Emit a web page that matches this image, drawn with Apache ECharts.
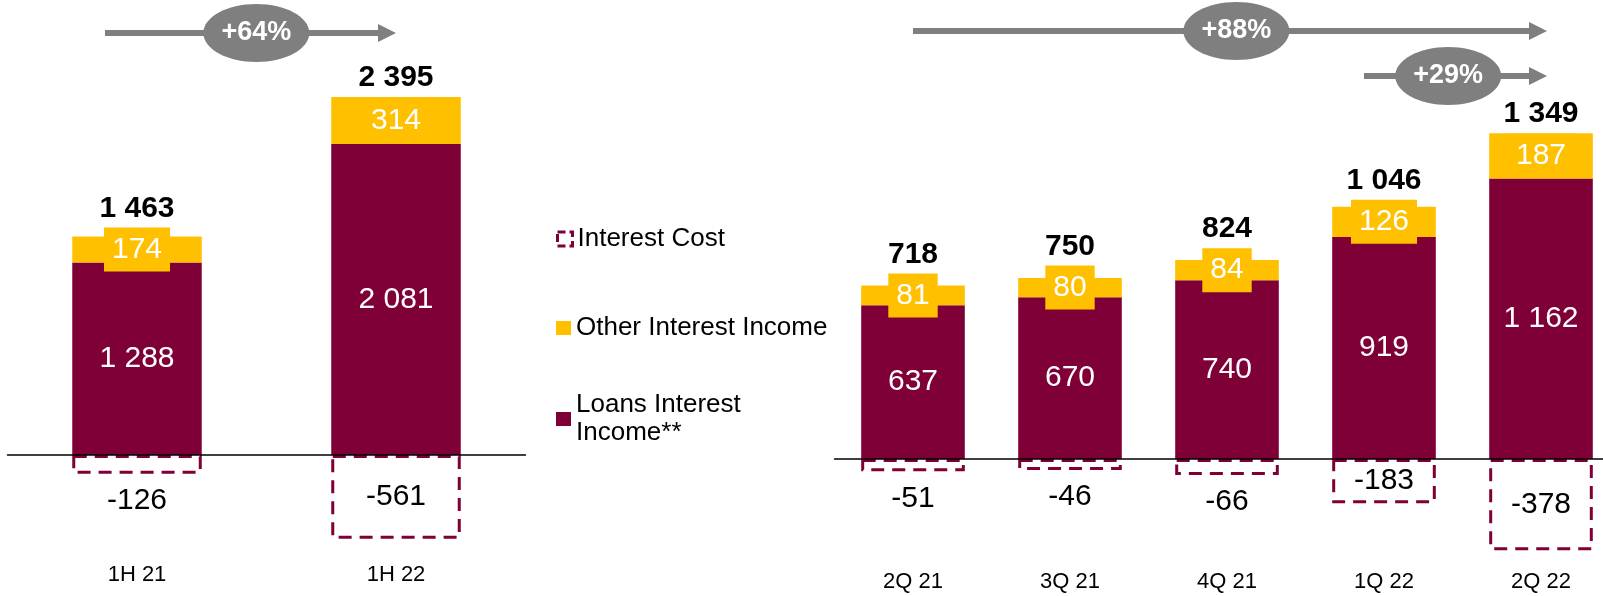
<!DOCTYPE html>
<html>
<head>
<meta charset="utf-8">
<script src="https://cdn.jsdelivr.net/npm/echarts@6/dist/echarts.min.js"></script>
<style>
  html, body { margin: 0; padding: 0; background: #fff; }
  #chart { width: 1603px; height: 596px; }
</style>
</head>
<body>
<div id="chart"></div>
<script>
// Half-year panel
const halfCategories = ['1H 21', '1H 22'];
const halfLoans = [1288, 2081];
const halfOther = [174, 314];
const halfCost = [-126, -561];
const halfTotal = [1463, 2395];

// Quarterly panel
const quarterCategories = ['2Q 21', '3Q 21', '4Q 21', '1Q 22', '2Q 22'];
const quarterLoans = [637, 670, 740, 919, 1162];
const quarterOther = [81, 80, 84, 126, 187];
const quarterCost = [-51, -46, -66, -183, -378];
const quarterTotal = [718, 750, 824, 1046, 1349];

const MAROON = '#7F0037';
const GOLD = '#FFC000';
const GREY = '#7F7F7F';
const FONT = '"Liberation Sans", Arial, sans-serif';
const BOX_H = 44; // height of the gold label plate (lineHeight + padding)

function fmt(v) {
  const s = String(Math.abs(v)).replace(/\B(?=(\d{3})+(?!\d))/g, ' ');
  return (v < 0 ? '-' : '') + s;
}
function growth(a, b) {
  return '+' + Math.round((b / a - 1) * 100) + '%';
}

// Shallow cost boxes get their value written underneath instead of inside
function costLabelLayout(p) {
  if (p.rect.height >= 35) return {};
  return {
    x: p.rect.x + p.rect.width / 2,
    y: p.rect.y + p.rect.height + 12,
    align: 'center',
    verticalAlign: 'top'
  };
}

function panelSeries(g, loans, other, cost, totals, barWidth) {
  const common = { type: 'bar', xAxisIndex: g, yAxisIndex: g, stack: 'p' + g, barWidth: barWidth, emphasis: { disabled: true } };
  return [
    Object.assign({}, common, {
      name: 'Loans Interest Income**',
      data: loans,
      itemStyle: { color: MAROON },
      label: { show: true, position: 'inside', color: '#fff', fontSize: 30, fontFamily: FONT, formatter: p => fmt(p.value) }
    }),
    Object.assign({}, common, {
      name: 'Other Interest Income',
      data: other,
      itemStyle: { color: GOLD },
      label: {
        show: true, position: 'inside', color: '#fff', fontSize: 30, fontFamily: FONT,
        backgroundColor: GOLD, padding: [5, 8], lineHeight: 34, formatter: p => fmt(p.value)
      }
    }),
    Object.assign({}, common, {
      name: 'Interest Cost',
      data: cost,
      itemStyle: { color: 'rgba(0,0,0,0)', borderColor: MAROON, borderWidth: 3, borderType: [13, 8] },
      label: { show: true, position: 'inside', color: '#000', fontSize: 30, fontFamily: FONT, formatter: p => fmt(p.value) },
      labelLayout: costLabelLayout
    }),
    {
      type: 'custom',
      xAxisIndex: g, yAxisIndex: g,
      z: 10,
      silent: true,
      data: totals.map((t, i) => [i, t, other[i]]),
      encode: { x: 0, y: 1 },
      renderItem: function (params, api) {
        const total = api.value(1);
        const p = api.coord([api.value(0), total]);
        const segH = api.size([0, api.value(2)])[1];
        const boxTop = Math.min(p[1], p[1] + segH / 2 - BOX_H / 2);
        return {
          type: 'text', x: p[0], y: boxTop - 4,
          style: { text: fmt(total), fill: '#000', font: 'bold 30px ' + FONT, align: 'center', verticalAlign: 'bottom' }
        };
      }
    }
  ];
}

const axisLabel = { color: '#000', fontSize: 22, fontFamily: FONT };
const legendText = { color: '#000', fontSize: 26, lineHeight: 28, fontFamily: FONT };

const option = {
  animation: false,
  grid: [
    { left: 7.5, width: 518, top: 66.3, height: 493.35, containLabel: false, outerBoundsMode: 'none' },
    { left: 834.5, width: 785, top: 96.75, height: 458.85, containLabel: false, outerBoundsMode: 'none' }
  ],
  xAxis: [
    {
      type: 'category', gridIndex: 0, data: halfCategories, z: 5,
      axisLine: { onZero: true, lineStyle: { color: '#000', width: 1.5 } },
      axisTick: { show: false },
      axisLabel: Object.assign({ margin: 4 }, axisLabel)
    },
    {
      type: 'category', gridIndex: 1, data: quarterCategories, z: 5,
      axisLine: { onZero: true, lineStyle: { color: '#000', width: 1.5 } },
      axisTick: { show: false },
      axisLabel: Object.assign({ margin: 15 }, axisLabel)
    }
  ],
  yAxis: [
    { type: 'value', gridIndex: 0, min: -700, max: 2600, show: false, splitLine: { show: false } },
    { type: 'value', gridIndex: 1, min: -400, max: 1500, show: false, splitLine: { show: false } }
  ],
  legend: [
    {
      data: ['Interest Cost'], orient: 'vertical', left: 556, top: 225, padding: 0,
      itemWidth: 15, itemHeight: 14, itemGap: 0, icon: 'rect', selectedMode: false,
      itemStyle: { borderType: [8, 4], borderWidth: 3 },
      textStyle: legendText
    },
    {
      data: ['Other Interest Income'], orient: 'vertical', left: 556, top: 314, padding: 0,
      itemWidth: 15, itemHeight: 14, itemGap: 0, icon: 'rect', selectedMode: false,
      textStyle: legendText
    },
    {
      data: ['Loans Interest Income**'], orient: 'vertical', left: 556, top: 377, padding: 0,
      itemWidth: 15, itemHeight: 14, itemGap: 0, icon: 'rect', selectedMode: false,
      formatter: () => 'Loans Interest\nIncome**',
      textStyle: Object.assign({ padding: [28, 0, 0, 0] }, legendText)
    }
  ],
  series: [].concat(
    panelSeries(0, halfLoans, halfOther, halfCost, halfTotal, '50%'),
    panelSeries(1, quarterLoans, quarterOther, quarterCost, quarterTotal, '66%')
  )
};

const chart = echarts.init(document.getElementById('chart'), null, { renderer: 'canvas' });
chart.setOption(option);

// Growth arrows above the bars, anchored to the category positions
function cx(g, name) {
  return chart.convertToPixel({ xAxisIndex: g }, name);
}
function arrow(x0, x1, y, t, text) {
  const ex = x0 + (x1 - x0) * t;
  return [
    { type: 'rect', shape: { x: x0, y: y - 3, width: x1 - 17 - x0, height: 6 }, style: { fill: GREY }, z: 20 },
    { type: 'polygon', shape: { points: [[x1 - 18, y - 9], [x1, y], [x1 - 18, y + 9]] }, style: { fill: GREY }, z: 20 },
    { type: 'ellipse', shape: { cx: ex, cy: y, rx: 53, ry: 29 }, style: { fill: GREY }, z: 21 },
    { type: 'text', x: ex, y: y, style: { text: text, fill: '#fff', font: 'bold 27px ' + FONT, align: 'center', verticalAlign: 'middle' }, z: 22 }
  ];
}
const qLast = quarterCategories[quarterCategories.length - 1];
const qPrev = quarterCategories[quarterCategories.length - 2];
const graphics = [].concat(
  arrow(cx(0, halfCategories[0]) - 32, cx(0, halfCategories[1]), 33, 0.52,
        growth(halfTotal[0], halfTotal[1])),
  arrow(cx(1, quarterCategories[0]), cx(1, qLast) + 6, 31, 0.51,
        growth(quarterTotal[0], quarterTotal[quarterTotal.length - 1])),
  arrow(cx(1, qPrev) - 20, cx(1, qLast) + 6, 76, 0.46,
        growth(quarterTotal[quarterTotal.length - 2], quarterTotal[quarterTotal.length - 1]))
);
chart.setOption({ graphic: graphics });
</script>
</body>
</html>
